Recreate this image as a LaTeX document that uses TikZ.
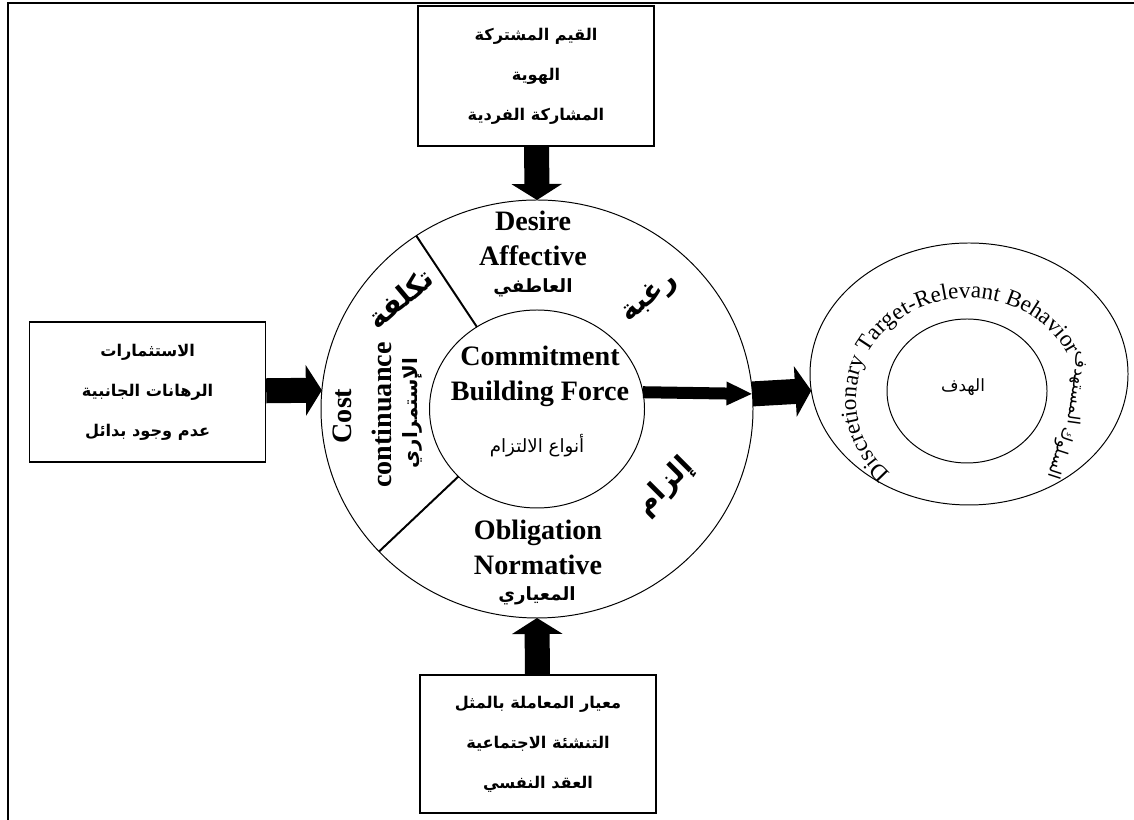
\documentclass[tikz,border=0pt]{standalone}
\usepackage{fontspec}
\setmainfont{Liberation Serif}
\newfontfamily\arabicfont[Script=Arabic]{DejaVu Sans}
\TeXXeTstate=1
\usetikzlibrary{shapes.geometric,calc,arrows.meta,decorations.text}
\newcommand{\artext}[1]{\beginR#1\endR}
\tikzset{
    factor box/.style={% the three source boxes
        draw, line width=0.9pt, rectangle, minimum width=5.9cm, minimum height=3.5cm,
        align=center, font=\arabicfont\bfseries\fontsize{11.5}{28.5}\selectfont},
    ring/.style 2 args={% empty ellipse, anchors on the line
        draw, line width=0.7pt, ellipse, inner sep=0pt, outer sep=0pt,
        minimum width=#1, minimum height=#2},
    block arrow/.style={% thick shaft + wide head
        line width=0.625cm, -{Triangle[length=0.4cm, width=1.25cm]}},
    thin arrow/.style={% thinner shaft + head
        line width=0.3cm, -{Triangle[length=0.65cm, width=0.55cm]}},
    en label/.style={% bold english labels
        font=\bfseries\fontsize{20}{25}\selectfont, align=center, inner sep=0pt},
    ar label/.style={% bold arabic labels
        font=\arabicfont\bfseries\fontsize{#1}{#1}\selectfont, inner sep=0pt},
    ar label/.default=13,
    ar plain/.style={% regular arabic labels
        font=\arabicfont\fontsize{#1}{#1}\selectfont, inner sep=0pt},
    ar plain/.default=12}

\begin{document}
\begin{tikzpicture}[>=latex]
\useasboundingbox (0,0) rectangle (28.35,20.5);
\draw[line width=1.8pt] (0.2,0) |- (28.35,20.425);
\node[factor box] (valuebox) at (13.4,18.6) {\artext{القيم المشتركة}\\ \artext{الهوية}\\ \artext{المشاركة الفردية}};
\node[factor box] (investbox) at (3.69,10.7) {\artext{الاستثمارات}\\ \artext{الرهانات الجانبية}\\ \artext{عدم وجود بدائل}};
\node[factor box, minimum height=3.45cm] (normbox) at (13.45,1.9) {\artext{معيار المعاملة بالمثل}\\ \artext{التنشئة الاجتماعية}\\ \artext{العقد النفسي}};
\node[ring={10.8cm}{10.45cm}] (force) at (13.425,10.275) {};
\node[ring={5.375cm}{4.95cm}] (core) at (13.425,10.275) {};
\node[ring={7.95cm}{6.55cm}] (goal) at (24.225,11.15) {};
\node[ring={4cm}{3.6cm}] (aim) at (24.175,10.725) {};
\draw[line width=1.4pt] ($(core)+(124:2.6875 and 2.475)$) -- ($(force)+(124:5.4 and 5.225)$);
\draw[line width=1.4pt] ($(core)+(223:2.6875 and 2.475)$) -- ($(force)+(223:5.4 and 5.225)$);
\draw[block arrow] (valuebox) -- (force.north);
\draw[block arrow] (investbox) -- (force.175.5);
\draw[block arrow] (normbox) -- (force.south);
\draw[thin arrow] (core.9.1) -- (force.4.5);
\draw[block arrow] (force.4.5) -- (goal.186.5);
% labels of the ring
\node[en label] (desire) at (13.325,14.54) {Desire\\Affective};
\node[ar label] (affective) at (13.325,13.3) {\artext{العاطفي}};
\node[en label] (building) at (13.5,11.1) {Commitment\\Building Force};
\node[ar plain=13] (kinds) at (13.425,9.35) {\artext{أنواع الالتزام}};
\node[en label] (obligation) at (13.45,6.81) {Obligation\\Normative};
\node[ar label] (normative) at (13.425,5.6) {\artext{المعياري}};
\node[en label, rotate=90] (cost) at (8.55,10.1) {Cost};
\node[en label, rotate=90] (continuance) at (9.55,10.125) {continuance};
\node[ar label=14, rotate=90] (continuous) at (10.3,10.175) {\artext{الإستمراري}};
\node[ar label=20, rotate=40] (costar) at (10.0,13.05) {\artext{تكلفة}};
\node[ar label=20, rotate=38] (desirear) at (16.25,13.05) {\artext{رغبة}};
\node[ar label=20, rotate=45] (obligationar) at (16.625,8.325) {\artext{إلزام}};
% target ring
\node[ar plain] (target) at (24.075,10.825) {\artext{الهدف}};
\path[decorate, decoration={text along path, text align=center,
    text={|\fontsize{16.5}{16.5}\selectfont|Discretionary Target-Relevant Behavior}}]
    ($(24.2,10.5)+(225:2.8 and 2.55)$) arc[start angle=225, end angle=27, x radius=2.8cm, y radius=2.55cm];
\node[ar plain, rotate=-98] (targeted) at (26.925,10.8) {\artext{المستهدف}};
\node[ar plain, rotate=-108] (behaviour) at (26.5,9.175) {\artext{السلوك}};
\end{tikzpicture}
\end{document}
